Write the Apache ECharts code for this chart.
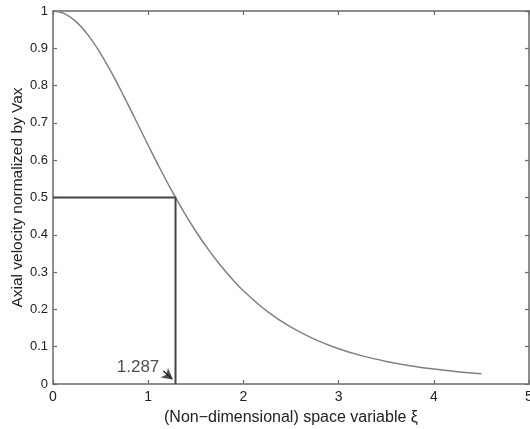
<!DOCTYPE html>
<html>
<head>
<meta charset="utf-8">
<script src="https://cdn.jsdelivr.net/npm/echarts@6/dist/echarts.min.js"></script>
<style>
  html, body { margin: 0; padding: 0; background: #fff; }
  #chart { width: 530px; height: 429px; }
</style>
</head>
<body>
<div id="chart"></div>
<script>
// Axial velocity profile of the jet versus the non-dimensional space variable
const xi = [0, 0.125, 0.25, 0.375, 0.5, 0.625, 0.75, 0.875, 1, 1.125, 1.25, 1.375, 1.5, 1.625, 1.75, 1.875, 2,
            2.25, 2.5, 2.75, 3, 3.25, 3.5, 3.75, 4, 4.25, 4.5];
const velocity = [1, 0.9922, 0.9695, 0.9332, 0.8858, 0.83, 0.7686, 0.7045, 0.64, 0.5771, 0.5171, 0.4611, 0.4096,
                  0.3628, 0.3208, 0.2833, 0.25, 0.1948, 0.1523, 0.1197, 0.0947, 0.0754, 0.0606, 0.049, 0.04, 0.0329, 0.0272];

// Half-velocity point and the guide lines to it
const halfXi = 1.287;
const halfValue = 0.5;
const halfLabel = '1.287';

// Axis ticks
const xTicks = [0, 1, 2, 3, 4, 5];
const yTicks = [0, 0.1, 0.2, 0.3, 0.4, 0.5, 0.6, 0.7, 0.8, 0.9, 1];

const xTitle = '(Non\u2212dimensional) space variable \u03be';
const yTitle = 'Axial velocity normalized by Vax';

const axisColor = '#6a6a6a';
const textColor = '#222';
const font = 'Liberation Sans, Arial, Helvetica, sans-serif';

const curve = xi.map((x, i) => [x, velocity[i]]);
const guide = [[0, halfValue], [halfXi, halfValue], [halfXi, 0]];

function xAxisDef(pos, showLabels) {
  return {
    type: 'value', position: pos, min: xTicks[0], max: xTicks[xTicks.length - 1], interval: 1,
    axisLine: { show: true, onZero: false, lineStyle: { color: axisColor, width: 1.5 } },
    axisTick: { show: true, inside: true, length: 4, lineStyle: { color: axisColor, width: 1.2 } },
    axisLabel: { show: showLabels, color: textColor, fontFamily: font, fontSize: 14, margin: 6 },
    splitLine: { show: false },
    name: showLabels ? xTitle : '', nameLocation: 'middle', nameGap: 26, nameMoveOverlap: false,
    nameTextStyle: { color: textColor, fontFamily: font, fontSize: 16 }
  };
}
function yAxisDef(pos, showLabels) {
  return {
    type: 'value', position: pos, min: yTicks[0], max: yTicks[yTicks.length - 1], interval: 0.1,
    axisLine: { show: true, onZero: false, lineStyle: { color: axisColor, width: 1.5 } },
    axisTick: { show: true, inside: true, length: 4, lineStyle: { color: axisColor, width: 1.2 } },
    axisLabel: { show: showLabels, color: textColor, fontFamily: font, fontSize: 13, margin: 5,
      formatter: v => String(Math.round(v * 10) / 10) },
    splitLine: { show: false },
    name: showLabels ? yTitle : '', nameLocation: 'middle', nameGap: 27, nameMoveOverlap: false,
    nameTextStyle: { color: textColor, fontFamily: font, fontSize: 15.5 }
  };
}

const chart = echarts.init(document.getElementById('chart'), null, { renderer: 'canvas' });
chart.setOption({
  animation: false,
  backgroundColor: '#fff',
  grid: { left: 53, top: 11, right: 1, bottom: 45, containLabel: false, outerBoundsMode: 'none' },
  xAxis: [xAxisDef('bottom', true), xAxisDef('top', false)],
  yAxis: [yAxisDef('left', true), yAxisDef('right', false)],
  series: [
    {
      type: 'line', data: curve, smooth: 0.4, symbol: 'none',
      lineStyle: { color: '#808080', width: 1.5 }
    },
    {
      type: 'line', data: guide, symbol: 'none',
      lineStyle: { color: '#454545', width: 2 },
      markLine: {
        silent: true, symbol: ['none', 'none'],
        lineStyle: { color: '#222', width: 1.5, type: 'solid' },
        label: { show: false },
        data: [[{ coord: [1.16, 0.035] }, { coord: [1.25, 0.014] }]]
      }
    },
    {
      // arrow head pointing at the half-velocity abscissa
      type: 'scatter', data: [[1.26, 0.012]], symbol: 'arrow', symbolSize: [9, 11], symbolRotate: -128,
      itemStyle: { color: '#222' }, silent: true
    },
    {
      type: 'scatter', data: [[0.893, 0.044]], symbolSize: 0, silent: true,
      label: { show: true, position: 'inside', formatter: halfLabel,
        color: textColor, fontFamily: font, fontSize: 17 }
    }
  ]
});
</script>
</body>
</html>
